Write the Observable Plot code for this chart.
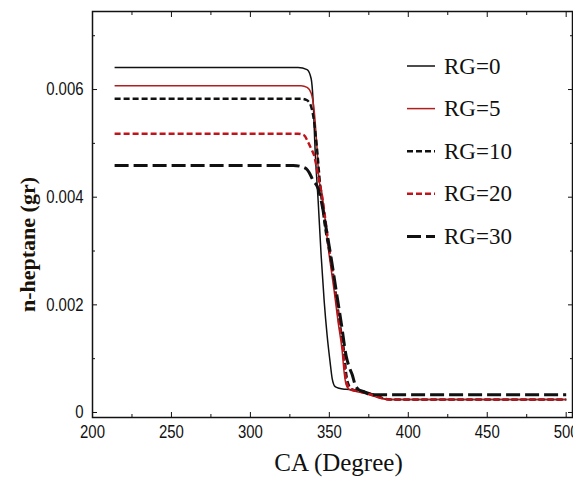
<!DOCTYPE html>
<html>
<head>
<meta charset="utf-8">
<script src="https://cdn.jsdelivr.net/npm/d3@7"></script>
<script src="https://cdn.jsdelivr.net/npm/@observablehq/plot@0.6"></script>
<style>
  html, body { margin: 0; padding: 0; background: #fff; }
  #chart { width: 573px; height: 482px; }
</style>
</head>
<body>
<div id="chart"></div>
<script>
// ---- data ----
const seriesNames = ["RG=0", "RG=5", "RG=10", "RG=20", "RG=30"];

const ca_RG0  = [214, 330.2, 335.9, 338.5, 339.7, 341.0, 342.9, 344.8, 346.7, 348.6, 350.5, 351.8, 353.7, 356.2, 360.6, 370.2, 382.8, 386.6, 500];
const val_RG0 = [0.00641, 0.00641, 0.00637, 0.00620, 0.00580, 0.00487, 0.00394, 0.00292, 0.00208, 0.00143, 0.00093, 0.00063, 0.00048, 0.00045, 0.00043, 0.00041, 0.00028, 0.00024, 0.00024];

const ca_RG5  = [214, 332.1, 335.9, 338.5, 340.4, 342.3, 343.5, 344.8, 349.9, 353.0, 355.6, 358.1, 359.4, 360.6, 362.5, 367.0, 373.3, 382.8, 387.9, 500];
const val_RG5 = [0.00607, 0.00607, 0.00604, 0.00593, 0.00561, 0.00487, 0.00431, 0.00416, 0.00292, 0.00227, 0.00167, 0.00115, 0.00074, 0.00052, 0.00043, 0.00039, 0.00035, 0.00026, 0.00024, 0.00024];

const ca_RG10  = [214, 332.1, 335.9, 338.5, 340.4, 342.3, 344.2, 346.7, 351.2, 354.3, 356.8, 359.4, 360.6, 361.9, 364.4, 370.2, 377.8, 384.7, 389.2, 500];
const val_RG10 = [0.00583, 0.00583, 0.00580, 0.00568, 0.00539, 0.00487, 0.00422, 0.00357, 0.00279, 0.00217, 0.00162, 0.00111, 0.00074, 0.00054, 0.00043, 0.00039, 0.00033, 0.00026, 0.00024, 0.00024];

const ca_RG20  = [214, 330.2, 334.0, 336.6, 338.5, 340.4, 342.9, 344.8, 350.5, 353.7, 356.2, 358.8, 360.0, 361.3, 363.8, 368.9, 376.5, 384.1, 389.2, 500];
const val_RG20 = [0.00518, 0.00518, 0.00515, 0.00502, 0.00490, 0.00477, 0.00440, 0.00412, 0.00292, 0.00227, 0.00167, 0.00115, 0.00074, 0.00052, 0.00043, 0.00039, 0.00033, 0.00026, 0.00024, 0.00024];

const ca_RG30  = [214, 327.1, 332.1, 335.3, 337.2, 339.7, 342.9, 344.8, 348.0, 351.2, 354.3, 357.5, 360.6, 362.5, 364.4, 366.3, 368.3, 371.4, 376.5, 500];
const val_RG30 = [0.00459, 0.00459, 0.00457, 0.00453, 0.00446, 0.00431, 0.00416, 0.00394, 0.00342, 0.00286, 0.00227, 0.00167, 0.00106, 0.00085, 0.00071, 0.00052, 0.00043, 0.00039, 0.00033, 0.00033];

const xMajorTicks = [200, 250, 300, 350, 400, 450, 500];
const xMinorTicks = [225, 275, 325, 375, 425, 475];
const yMajorTicks = [0, 0.002, 0.004, 0.006];
const yMinorTicks = [0.001, 0.003, 0.005, 0.007];

const xTitle = "CA (Degree)";
const yTitle = "n-heptane (gr)";

// ---- styles ----
const styles = {
  "RG=0":  {stroke: "#111111", strokeWidth: 1.5, dash: null},
  "RG=5":  {stroke: "#b01e1e", strokeWidth: 1.5, dash: null},
  "RG=10": {stroke: "#111111", strokeWidth: 2.4, dash: "6,3"},
  "RG=20": {stroke: "#c0141c", strokeWidth: 2.4, dash: "6,3"},
  "RG=30": {stroke: "#111111", strokeWidth: 3,   dash: "14,5"}
};

const raw = {
  "RG=0": [ca_RG0, val_RG0],
  "RG=5": [ca_RG5, val_RG5],
  "RG=10": [ca_RG10, val_RG10],
  "RG=20": [ca_RG20, val_RG20],
  "RG=30": [ca_RG30, val_RG30]
};
const table = seriesNames.map(name => ({
  name,
  points: raw[name][0].map((x, i) => ({x, y: raw[name][1][i]}))
}));

const W = 573, H = 482;
const mL = 92, mR = 1, mT = 11, mB = 65;

const lineMarks = table.map(s => Plot.line(s.points, {
  x: "x", y: "y", curve: "monotone-x",
  stroke: styles[s.name].stroke,
  strokeWidth: styles[s.name].strokeWidth,
  strokeDasharray: styles[s.name].dash,
  strokeLinecap: "butt"
}));

const fmtY = d => d === 0 ? "0" : d.toFixed(3);
const tickFont = "'Liberation Sans', Arial, sans-serif";
const serif = "'Liberation Serif', 'DejaVu Serif', serif";

const chart = Plot.plot({
  width: W, height: H,
  marginLeft: mL, marginRight: mR, marginTop: mT, marginBottom: mB,
  x: {domain: [200, 504]},
  y: {domain: [-0.000093, 0.00745]},
  style: {background: "#fff", color: "#111", fontFamily: tickFont, fontSize: "18px"},
  marks: [
    ...lineMarks,
    // tick labels
    Plot.axisX(xMajorTicks, {anchor: "bottom", tickSize: 0, tickPadding: 8, label: null, fontSize: 18}),
    Plot.axisY(yMajorTicks, {anchor: "left", tickSize: 0, tickPadding: 9, label: null, tickFormat: fmtY, fontSize: 18}),
    // inward ticks on all sides
    Plot.axisX(xMajorTicks, {anchor: "bottom", tickSize: 5, dy: -5, text: null, label: null}),
    Plot.axisX(xMinorTicks, {anchor: "bottom", tickSize: 3, dy: -3, text: null, label: null}),
    Plot.axisX(xMajorTicks, {anchor: "top", tickSize: 5, dy: 5, text: null, label: null}),
    Plot.axisX(xMinorTicks, {anchor: "top", tickSize: 3, dy: 3, text: null, label: null}),
    Plot.axisY(yMajorTicks, {anchor: "left", tickSize: 5, dx: 5, text: null, label: null}),
    Plot.axisY(yMinorTicks, {anchor: "left", tickSize: 3, dx: 3, text: null, label: null}),
    Plot.axisY(yMajorTicks, {anchor: "right", tickSize: 5, dx: -5, text: null, label: null}),
    Plot.axisY(yMinorTicks, {anchor: "right", tickSize: 3, dx: -3, text: null, label: null}),
    Plot.frame({stroke: "#111", strokeWidth: 1.5}),
    // axis titles
    Plot.text([xTitle], {text: d => d, frameAnchor: "bottom", textAnchor: "middle", dx: 6, dy: 53,
      fontFamily: serif, fontSize: 25, fill: "#111"}),
    Plot.text([yTitle], {text: d => d, frameAnchor: "left", textAnchor: "middle", dx: -65, dy: 30, rotate: -90,
      fontFamily: serif, fontSize: 22, fontWeight: "bold", fill: "#1a1208"})
  ]
});

document.getElementById("chart").appendChild(chart);

const svg = d3.select(chart);
// narrow the tick-label glyphs (condensed look of the original)
svg.selectAll("g[aria-label='x-axis tick label'] text, g[aria-label='y-axis tick label'] text")
  .each(function() {
    const t = this.getAttribute("transform") || "";
    this.setAttribute("transform", t + " scale(0.83,1)");
  });

// ---- legend (inside the plot area, upper right) ----
const lg = svg.append("g").attr("class", "legend");
const lx0 = 407, lx1 = 435, ly0 = 66, lstep = 42.6;
seriesNames.forEach((name, i) => {
  const st = styles[name];
  const y = ly0 + i * lstep;
  lg.append("line")
    .attr("x1", lx0).attr("x2", lx1).attr("y1", y).attr("y2", y)
    .attr("stroke", st.stroke).attr("stroke-width", st.strokeWidth)
    .attr("stroke-dasharray", st.dash);
  lg.append("text")
    .attr("x", 444).attr("y", y + 7.5)
    .attr("text-anchor", "start")
    .attr("font-family", serif)
    .attr("font-size", 23).attr("fill", "#111")
    .text(name);
});
</script>
</body>
</html>
